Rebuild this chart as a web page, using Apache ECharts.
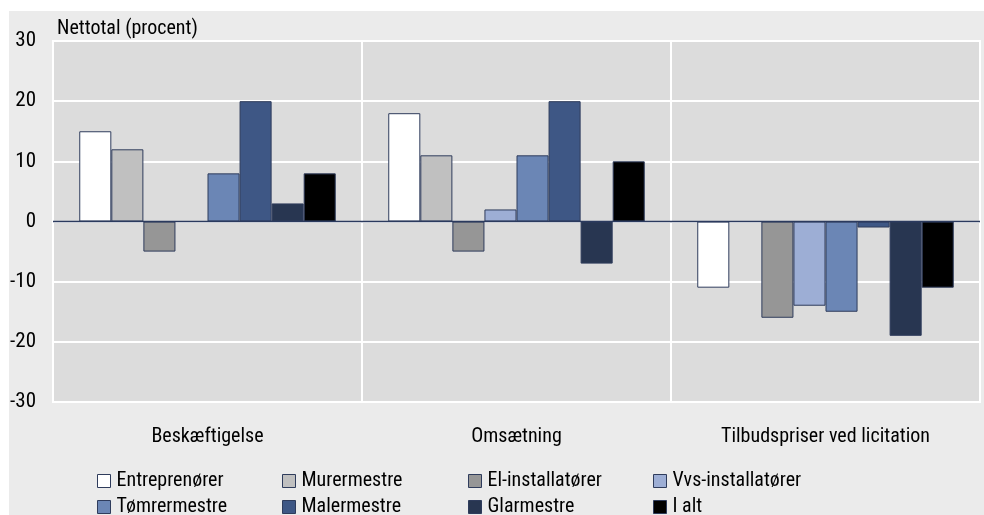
<!DOCTYPE html>
<html>
<head>
<meta charset="utf-8">
<script src="https://cdn.jsdelivr.net/npm/echarts@6/dist/echarts.min.js"></script>
<style>
html,body{margin:0;padding:0;background:#fff;}
#chart{width:984px;height:515px;}
</style>
</head>
<body>
<div id="chart"></div>
<script>
const categories = ['Beskæftigelse', 'Omsætning', 'Tilbudspriser ved licitation'];
const seriesNames = ['Entreprenører', 'Murermestre', 'El-installatører', 'Vvs-installatører',
                     'Tømrermestre', 'Malermestre', 'Glarmestre', 'I alt'];
const entreprenorer = [15, 18, -11];
const murermestre = [12, 11, null];
const elInstallatorer = [-5, -5, -16];
const vvsInstallatorer = [null, 2, -14];
const tomrermestre = [8, 11, -15];
const malermestre = [20, 20, -1];
const glarmestre = [3, -7, -19];
const iAlt = [8, 10, -11];
const yTicks = [-30, -20, -10, 0, 10, 20, 30];

const values = [entreprenorer, murermestre, elInstallatorer, vvsInstallatorer,
                tomrermestre, malermestre, glarmestre, iAlt];
const colors = ['#ffffff', '#c0c0c0', '#969696', '#9daed5', '#6b86b5', '#3e5785', '#283651', '#000000'];
const FONT = "'Liberation Sans Narrow', 'Roboto Condensed', 'Liberation Sans', sans-serif";

const chart = echarts.init(document.getElementById('chart'));
const series = seriesNames.map((name, i) => ({
  name: name,
  type: 'bar',
  data: values[i],
  barGap: '0%',
  barCategoryGap: '17%',
  itemStyle: { color: colors[i], borderColor: '#2f3c5c', borderWidth: 1 },
  emphasis: { disabled: true },
  z: 3
}));
series[0].markLine = {
  silent: true,
  symbol: 'none',
  label: { show: false },
  lineStyle: { color: '#2b3a5e', width: 1.3, type: 'solid' },
  data: [{ yAxis: 0 }],
  z: 5
};

const colLefts = [97, 282, 468, 653];
const rowTops = [471, 497];
const legends = seriesNames.map((name, i) => ({
  data: [name],
  icon: 'rect',
  itemWidth: 13,
  itemHeight: 13,
  itemGap: 0,
  itemStyle: { borderColor: '#2f3c5c', borderWidth: 1 },
  textStyle: { fontFamily: FONT, fontSize: 20, color: '#000', padding: [0, 0, 0, 1] },
  selectedMode: false,
  padding: 0,
  left: colLefts[i % 4],
  top: rowTops[Math.floor(i / 4)]
}));

chart.setOption({
  animation: false,
  color: colors,
  graphic: [
    { type: 'rect', left: 9, top: 11, z: -10, shape: { width: 975, height: 504 }, style: { fill: '#ebebeb' } },
    { type: 'text', left: 57, top: 19, style: { text: 'Nettotal (procent)', font: '20px ' + FONT, fill: '#000' } }
  ],
  legend: legends,
  grid: {
    left: 53, right: 4, top: 41, bottom: 113,
    show: true, backgroundColor: '#dcdcdc', borderColor: '#ffffff', borderWidth: 2
  },
  xAxis: {
    type: 'category',
    data: categories,
    axisLine: { show: false, onZero: false },
    axisTick: { show: false },
    axisLabel: { fontFamily: FONT, fontSize: 20, color: '#000', margin: 25 },
    splitLine: { show: true, lineStyle: { color: '#ffffff', width: 2 } }
  },
  yAxis: {
    type: 'value',
    min: yTicks[0], max: yTicks[yTicks.length - 1], interval: 10,
    axisLine: { show: false },
    axisTick: { show: false },
    axisLabel: { fontFamily: FONT, fontSize: 21, color: '#000', margin: 17 },
    splitLine: { show: true, lineStyle: { color: '#ffffff', width: 2 } }
  },
  series: series
});
</script>
</body>
</html>
